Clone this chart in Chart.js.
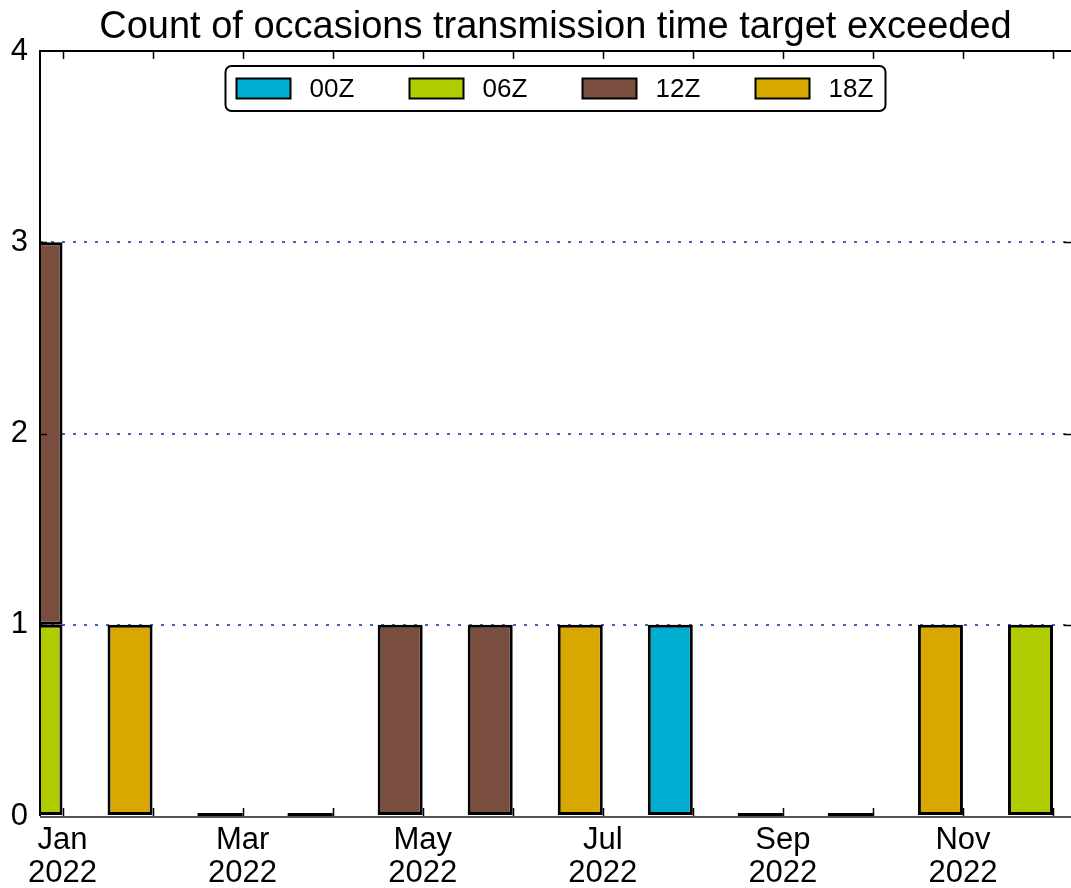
<!DOCTYPE html>
<html>
<head>
<meta charset="utf-8">
<script src="https://cdn.jsdelivr.net/npm/chart.js@4/dist/chart.umd.min.js"></script>
<style>
  html, body { margin: 0; padding: 0; background: #fff; }
  #wrap { width: 1071px; height: 888px; position: relative; }
</style>
</head>
<body>
<div id="wrap"><canvas id="chart"></canvas></div>
<script>
/* ── Data ── */
const months = ["Jan", "Feb", "Mar", "Apr", "May", "Jun", "Jul", "Aug", "Sep", "Oct", "Nov", "Dec"];
const year = "2022";
const labeledMonths = [0, 2, 4, 6, 8, 10];
const yTicks = [0, 1, 2, 3, 4];

const series00Z = [0, 0, 0, 0, 0, 0, 0, 1, 0, 0, 0, 0];
const series06Z = [1, 0, 0, 0, 0, 0, 0, 0, 0, 0, 0, 1];
const series12Z = [2, 0, 0, 0, 1, 1, 0, 0, 0, 0, 0, 0];
const series18Z = [0, 1, 0, 0, 0, 0, 1, 0, 0, 0, 1, 0];

const COLORS = {
  z00: "#00acd0",
  z06: "#b0cc00",
  z12: "#7a4e3e",
  z18: "#d8a800",
  grid: "#4a62b0",
  ink: "#000000",
};

const FONT = "'Liberation Sans', Arial, Helvetica, sans-serif";

// bars sit in the half-month just before each month tick
const barShift = -0.25;
const toPoints = (arr) => arr.map((v, i) => ({ x: i + barShift, y: v }));

function makeSet(label, values, color) {
  return {
    label,
    data: toPoints(values),
    backgroundColor: color,
    borderColor: COLORS.ink,
    borderWidth: 3,
    borderSkipped: false,
    categoryPercentage: 1,
    barPercentage: 0.5,
  };
}

/* ── Frame, inward ticks and zero bars ── */
const framePlugin = {
  id: "frame",
  afterDatasetsDraw(chart) {
    const { ctx, chartArea: a, scales } = chart;
    ctx.save();

    // zero-height bars show as a short dark line on the baseline
    const meta = chart.getDatasetMeta(0);
    months.forEach((m, i) => {
      const total = series00Z[i] + series06Z[i] + series12Z[i] + series18Z[i];
      if (total !== 0) return;
      const el = meta.data[i];
      ctx.fillStyle = COLORS.ink;
      ctx.fillRect(el.x - el.width / 2, a.bottom - 3, el.width, 3);
    });

    ctx.strokeStyle = COLORS.ink;
    ctx.lineWidth = 1.5;
    months.forEach((m, i) => {
      const x = Math.round(scales.x.getPixelForValue(i)) + 0.5;
      ctx.beginPath();
      ctx.moveTo(x, a.bottom);
      ctx.lineTo(x, a.bottom - 8);
      ctx.moveTo(x, a.top);
      ctx.lineTo(x, a.top + 8);
      ctx.stroke();
    });
    yTicks.slice(1, -1).forEach((v) => {
      const y = Math.round(scales.y.getPixelForValue(v)) + 0.5;
      ctx.beginPath();
      ctx.moveTo(a.right, y);
      ctx.lineTo(a.right - 7, y);
      ctx.moveTo(a.left, y);
      ctx.lineTo(a.left + 7, y);
      ctx.stroke();
    });

    ctx.lineWidth = 2;
    ctx.beginPath();
    ctx.moveTo(a.left, a.bottom);
    ctx.lineTo(a.left, a.top);
    ctx.lineTo(a.right, a.top);
    ctx.stroke();
    ctx.strokeStyle = "#555";
    ctx.beginPath();
    ctx.moveTo(a.left, a.bottom + 1);
    ctx.lineTo(a.right, a.bottom + 1);
    ctx.stroke();
    ctx.restore();
  },
};

/* ── Boxed legend inside the plot ── */
const legendPlugin = {
  id: "boxLegend",
  afterDraw(chart) {
    const { ctx, chartArea: a } = chart;
    const sets = chart.data.datasets;
    const itemW = 173;
    const boxW = 660;
    const boxH = 45;
    const left = (a.left + a.right) / 2 - boxW / 2;
    const top = a.top + 15;

    ctx.save();
    ctx.fillStyle = "#fff";
    ctx.strokeStyle = COLORS.ink;
    ctx.lineWidth = 2;
    ctx.beginPath();
    ctx.roundRect(left, top, boxW, boxH, 6);
    ctx.fill();
    ctx.stroke();

    ctx.font = "26px " + FONT;
    ctx.textBaseline = "middle";
    ctx.textAlign = "left";
    sets.forEach((ds, i) => {
      const sx = left + 11 + i * itemW;
      const cy = top + boxH / 2;
      ctx.fillStyle = ds.backgroundColor;
      ctx.fillRect(sx, cy - 10, 54, 20);
      ctx.lineWidth = 2;
      ctx.strokeRect(sx, cy - 10, 54, 20);
      ctx.fillStyle = COLORS.ink;
      ctx.fillText(ds.label, sx + 73, cy + 1);
    });
    ctx.restore();
  },
};

new Chart(document.getElementById("chart"), {
  type: "bar",
  data: {
    datasets: [
      makeSet("00Z", series00Z, COLORS.z00),
      makeSet("06Z", series06Z, COLORS.z06),
      makeSet("12Z", series12Z, COLORS.z12),
      makeSet("18Z", series18Z, COLORS.z18),
    ],
  },
  options: {
    responsive: true,
    maintainAspectRatio: false,
    animation: false,
    layout: { padding: { left: 0, right: 0, top: 0, bottom: 0 } },
    scales: {
      x: {
        type: "linear",
        stacked: true,
        offset: false,
        min: -0.25,
        max: 11.2,
        afterBuildTicks: (s) => {
          s.ticks = labeledMonths.map((v) => ({ value: v }));
        },
        afterFit: (s) => { s.height = 72; },
        ticks: {
          autoSkip: false,
          maxRotation: 0,
          padding: 0,
          color: COLORS.ink,
          font: { family: FONT, size: 31, lineHeight: 1.06 },
          callback: (v) => [months[v], year],
        },
        grid: { display: false, offset: false },
        border: { display: false },
      },
      y: {
        stacked: true,
        min: 0,
        max: 4,
        afterBuildTicks: (s) => {
          s.ticks = yTicks.map((v) => ({ value: v }));
        },
        afterFit: (s) => { s.width = 40; },
        ticks: {
          padding: 12,
          color: COLORS.ink,
          font: { family: FONT, size: 31 },
        },
        grid: {
          drawTicks: false,
          lineWidth: 2,
          color: (c) => (c.tick && c.tick.value > 0 && c.tick.value < 4 ? COLORS.grid : "rgba(0,0,0,0)"),
        },
        border: { display: false, dash: [3, 8] },
      },
    },
    plugins: {
      legend: { display: false },
      tooltip: { enabled: false },
      title: {
        display: true,
        fullSize: false,
        text: "Count of occasions transmission time target exceeded",
        color: COLORS.ink,
        font: { family: FONT, size: 38, weight: "normal", lineHeight: 1.0 },
        padding: { top: 9, bottom: 4 },
      },
    },
  },
  plugins: [framePlugin, legendPlugin],
});
</script>
</body>
</html>
